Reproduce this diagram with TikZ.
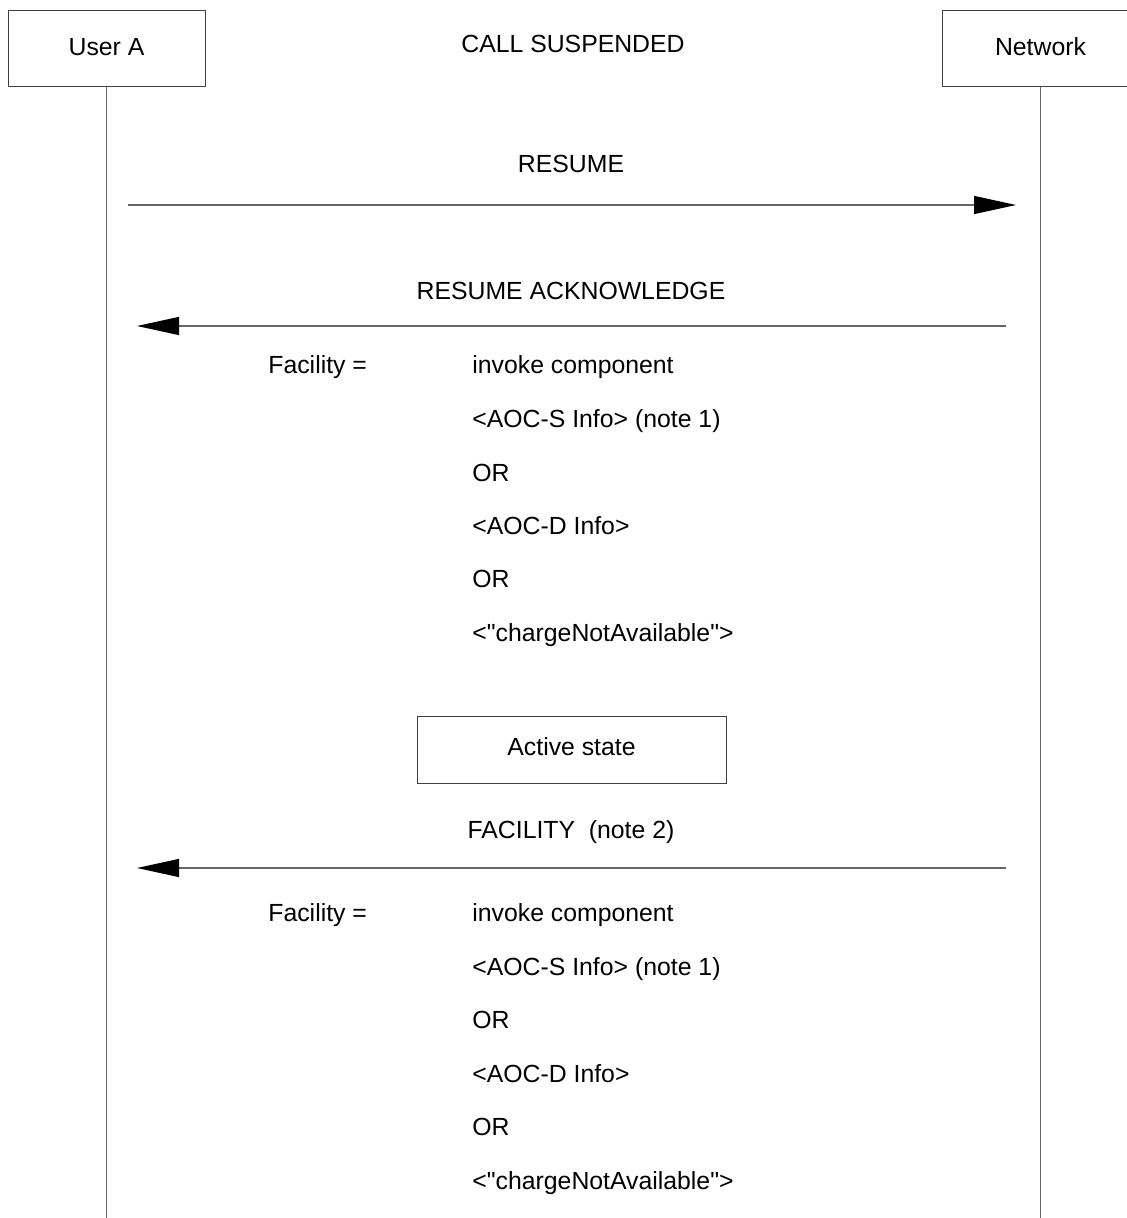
\documentclass[tikz,border=0pt]{standalone}
\usepackage{fontspec}
\setmainfont{Liberation Sans}
\usetikzlibrary{arrows.meta,positioning}

\tikzset{
  entity/.style={draw=black!75, line width=0.5pt, minimum width=98.5pt, minimum height=38pt, inner sep=0pt},
  statebox/.style={draw=black!75, line width=0.5pt, minimum width=154.5pt, minimum height=33.5pt, inner sep=0pt},
  life/.style={black!60, line width=0.6pt},
  msg/.style={black!60, line width=0.6pt, -{Triangle[length=21pt,width=9pt,color=black]}},
  txt/.style={inner sep=0pt, text height=9pt, text depth=2.5pt}
}
\newcommand{\noavail}{<\textquotedbl chargeNotAvailable\textquotedbl>}

\begin{document}
\begin{tikzpicture}[x=0.5pt, y=-0.5pt, font=\fontsize{12.4}{14}\selectfont]
\useasboundingbox (0,0) rectangle (1126,1218);

% heading
\node[entity] (usera) at (106.5,49) {\raisebox{2pt}{User A}};
\node[entity] (net) at (1040.5,49) {\raisebox{2pt}{Network}};
\node[txt] (suspended) at (573,46) {CALL SUSPENDED};

% lifelines
\coordinate (ua end) at (106.5,1218);
\coordinate (net end) at (1040.5,1218);
\draw[life] (usera.south) -- (ua end);
\draw[life] (net.south) -- (net end);

% resume
\coordinate (res a) at (128,205);
\coordinate (res b) at (1016,205);
\node[txt] (resume) at (571,166) {RESUME};
\draw[msg] (res a) -- (res b);

% resume acknowledge
\coordinate (ack a) at (1006,326);
\coordinate (ack b) at (137,326);
\node[txt] (ack) at (571,293) {RESUME ACKNOWLEDGE};
\draw[msg] (ack a) -- (ack b);

\node[txt, anchor=west] (fac1) at (268,367) {Facility =};
\node[txt, anchor=west] (fac1 a) at (472,367) {invoke component};
\node[txt, anchor=west] (fac1 b) at (472,421) {<AOC-S Info> (note 1)};
\node[txt, anchor=west] (fac1 c) at (472,475) {OR};
\node[txt, anchor=west] (fac1 d) at (472,528) {<AOC-D Info>};
\node[txt, anchor=west] (fac1 e) at (472,581) {OR};
\node[txt, anchor=west] (fac1 f) at (472,635) {\noavail};

% active state
\node[statebox] (active) at (571.5,749.5) {\raisebox{2.5pt}{Active state}};

% facility
\coordinate (fac a) at (1006,868);
\coordinate (fac b) at (137,868);
\node[txt] (facility) at (571,832) {FACILITY\ \ (note 2)};
\draw[msg] (fac a) -- (fac b);

\node[txt, anchor=west] (fac2) at (268,915) {Facility =};
\node[txt, anchor=west] (fac2 a) at (472,915) {invoke component};
\node[txt, anchor=west] (fac2 b) at (472,969) {<AOC-S Info> (note 1)};
\node[txt, anchor=west] (fac2 c) at (472,1022) {OR};
\node[txt, anchor=west] (fac2 d) at (472,1076) {<AOC-D Info>};
\node[txt, anchor=west] (fac2 e) at (472,1129) {OR};
\node[txt, anchor=west] (fac2 f) at (472,1183) {\noavail};
\end{tikzpicture}
\end{document}
